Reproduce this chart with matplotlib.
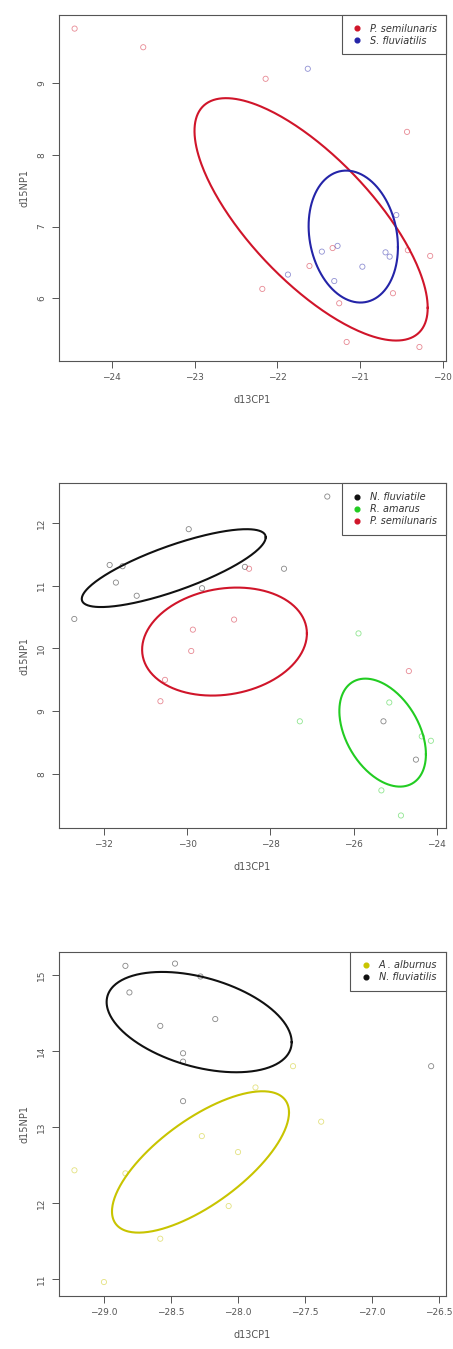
import numpy as np
import matplotlib
matplotlib.use("Agg")
import matplotlib.pyplot as plt
from matplotlib.lines import Line2D

# panel 1: P. semilunaris / S. fluviatilis
p1_ps_x = [-24.45, -23.62, -22.14, -20.43, -21.61, -22.18, -21.33, -21.25, -21.16, -20.60, -20.42, -20.15, -20.28]
p1_ps_y = [9.76, 9.50, 9.06, 8.32, 6.45, 6.13, 6.70, 5.93, 5.39, 6.07, 6.67, 6.59, 5.32]
p1_sf_x = [-21.63, -21.87, -21.46, -21.31, -20.97, -20.69, -20.64, -21.27, -20.56]
p1_sf_y = [9.20, 6.33, 6.65, 6.24, 6.44, 6.64, 6.58, 6.73, 7.16]

# panel 2: N. fluviatile / R. amarus / P. semilunaris
p2_nf_x = [-31.86, -31.55, -31.71, -31.21, -29.96, -29.64, -28.61, -27.67, -26.63, -32.71, -25.28, -24.50]
p2_nf_y = [11.33, 11.31, 11.05, 10.84, 11.90, 10.96, 11.30, 11.27, 12.42, 10.47, 8.84, 8.23]
p2_ra_x = [-25.88, -27.29, -25.14, -25.33, -24.86, -24.14, -24.36]
p2_ra_y = [10.24, 8.84, 9.14, 7.74, 7.34, 8.53, 8.60]
p2_ps_x = [-28.51, -29.86, -28.87, -29.90, -30.53, -30.64, -24.67]
p2_ps_y = [11.27, 10.30, 10.46, 9.96, 9.50, 9.16, 9.64]

# panel 3: A. alburnus / N. fluviatilis
p3_aa_x = [-27.59, -27.87, -27.38, -28.27, -28.00, -28.07, -28.58, -29.00, -29.22, -28.84]
p3_aa_y = [13.80, 13.52, 13.07, 12.88, 12.67, 11.96, 11.53, 10.96, 12.43, 12.39]
p3_nf_x = [-28.84, -28.47, -28.81, -28.28, -28.58, -28.17, -28.41, -28.41, -28.41, -26.56]
p3_nf_y = [15.12, 15.15, 14.77, 14.98, 14.33, 14.42, 13.97, 13.86, 13.34, 13.80]

# standard ellipses: centre x, centre y, sd x, sd y, correlation
p1_ps_ell = (-21.59, 7.10, 1.41, 1.69, -0.73)
p1_sf_ell = (-21.08, 6.86, 0.54, 0.92, -0.16)
p2_nf_ell = (-30.32, 11.28, 2.21, 0.62, 0.79)
p2_ps_ell = (-29.10, 10.11, 1.98, 0.86, 0.15)
p2_ra_ell = (-25.30, 8.66, 1.04, 0.86, -0.40)
p3_nf_ell = (-28.29, 14.38, 0.69, 0.66, -0.40)
p3_aa_ell = (-28.28, 12.54, 0.66, 0.93, 0.70)

RED = "#d0152a"
BLUE = "#2424a8"
BLACK = "#111111"
GREEN = "#22cc22"
YELLOW = "#c8c400"
GREY = "#555555"


def ellipse(ax, par, color):
    cx, cy, sx, sy, rho = par
    t = np.linspace(0, 2 * np.pi, 300)
    x = cx + sx * np.cos(t)
    y = cy + sy * (rho * np.cos(t) + np.sqrt(1 - rho ** 2) * np.sin(t))
    ax.plot(x, y, color=color, lw=1.5, zorder=3)


def points(ax, x, y, color):
    ax.scatter(x, y, s=14, facecolors="none", edgecolors=color, linewidths=0.6,
               alpha=0.5, zorder=4)


def style(ax, xlim, ylim, xticks, yticks, xfmt="{:g}"):
    ax.set_xlim(xlim)
    ax.set_ylim(ylim)
    ax.set_xticks(xticks)
    ax.set_xticklabels([xfmt.format(v).replace("-", "\u2212") for v in xticks])
    ax.set_yticks(yticks)
    ax.set_yticklabels([str(v) for v in yticks], rotation=90, va="center")
    for s in ax.spines.values():
        s.set_color(GREY)
        s.set_linewidth(0.8)
    ax.tick_params(colors=GREY, labelcolor=GREY, labelsize=6.5, length=5,
                   width=0.7, pad=4)
    ax.set_xlabel("d13CP1", fontsize=7, color=GREY, labelpad=9)
    ax.set_ylabel("d15NP1", fontsize=7, color=GREY, labelpad=6)


def legend(ax, names, colors):
    handles = [Line2D([], [], marker="o", ls="none", color=c, markersize=3.4)
               for c in colors]
    leg = ax.legend(handles, names, loc="upper right", borderaxespad=0,
                    fancybox=False, framealpha=1, edgecolor=GREY,
                    prop={"style": "italic", "size": 7},
                    handletextpad=0.7, handlelength=1.3, labelspacing=0.2,
                    borderpad=0.9)
    leg.get_frame().set_linewidth(0.8)
    for t in leg.get_texts():
        t.set_color("#333333")


fig = plt.figure(figsize=(4.53, 13.49), dpi=100)

ax1 = fig.add_axes([0.130, 0.7324, 0.8543, 0.2565])
points(ax1, p1_ps_x, p1_ps_y, RED)
points(ax1, p1_sf_x, p1_sf_y, BLUE)
ellipse(ax1, p1_ps_ell, RED)
ellipse(ax1, p1_sf_ell, BLUE)
style(ax1, (-24.64, -19.96), (5.125, 9.95), [-24, -23, -22, -21, -20], [6, 7, 8, 9])
legend(ax1, ["P. semilunaris", "S. fluviatilis"], [RED, BLUE])

ax2 = fig.add_axes([0.130, 0.3864, 0.8543, 0.2553])
points(ax2, p2_nf_x, p2_nf_y, BLACK)
points(ax2, p2_ra_x, p2_ra_y, GREEN)
points(ax2, p2_ps_x, p2_ps_y, RED)
ellipse(ax2, p2_nf_ell, BLACK)
ellipse(ax2, p2_ps_ell, RED)
ellipse(ax2, p2_ra_ell, GREEN)
style(ax2, (-33.08, -23.78), (7.145, 12.63), [-32, -30, -28, -26, -24], [8, 9, 10, 11, 12])
legend(ax2, ["N. fluviatile", "R. amarus", "P. semilunaris"], [BLACK, GREEN, RED])

ax3 = fig.add_axes([0.130, 0.0395, 0.8543, 0.2550])
points(ax3, p3_aa_x, p3_aa_y, YELLOW)
points(ax3, p3_nf_x, p3_nf_y, BLACK)
ellipse(ax3, p3_nf_ell, BLACK)
ellipse(ax3, p3_aa_ell, YELLOW)
style(ax3, (-29.336, -26.45), (10.78, 15.306), [-29.0, -28.5, -28.0, -27.5, -27.0, -26.5],
      [11, 12, 13, 14, 15], xfmt="{:.1f}")
legend(ax3, ["A . alburnus", "N. fluviatilis"], [YELLOW, BLACK])

fig.savefig("out.png", dpi=100)
